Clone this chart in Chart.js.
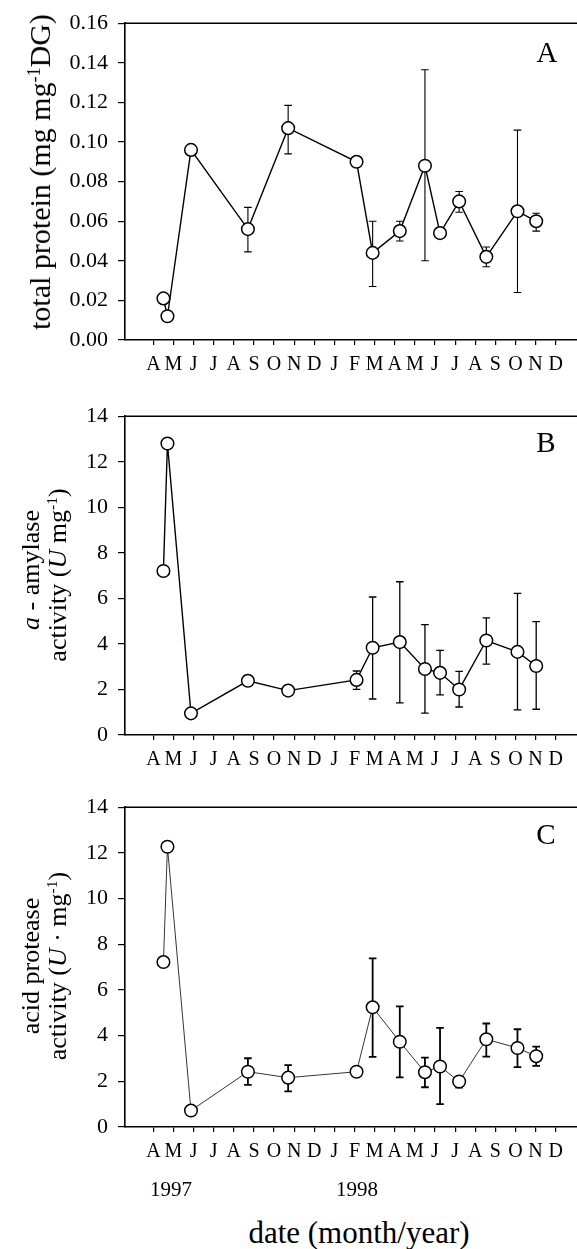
<!DOCTYPE html>
<html>
<head>
<meta charset="utf-8">
<script src="https://cdn.jsdelivr.net/npm/chart.js@4.4.0/dist/chart.umd.min.js"></script>
<style>
  html, body { margin: 0; padding: 0; background: #fff; width: 577px; height: 1249px; overflow: hidden; position: relative; }
  canvas { position: absolute; left: 0; }
  .txt { position: absolute; font-family: 'Liberation Serif', 'Times New Roman', serif; color: #000; white-space: nowrap; line-height: 1; transform: translate(-50%, -50%); }
  .rot { transform: translate(-50%, -50%) rotate(-90deg); }
  sup { font-size: 60%; vertical-align: 0; position: relative; top: -0.55em; }
</style>
</head>
<body>
<canvas id="chartA"></canvas>
<canvas id="chartB"></canvas>
<canvas id="chartC"></canvas>

<div class="txt rot" style="left:40px;top:172px;font-size:30px">total protein (mg mg<sup>-1</sup>DG)</div>
<div class="txt rot" style="left:31px;top:570px;font-size:26px"><i>a</i> - amylase</div>
<div class="txt rot" style="left:58px;top:575px;font-size:26px">activity (<i>U</i> mg<sup>-1</sup>)</div>
<div class="txt rot" style="left:31px;top:966px;font-size:26px">acid protease</div>
<div class="txt rot" style="left:58px;top:966px;font-size:26px">activity (<i>U</i> · mg<sup>-1</sup>)</div>

<div class="txt" style="left:547px;top:52px;font-size:29px">A</div>
<div class="txt" style="left:546px;top:442px;font-size:29px">B</div>
<div class="txt" style="left:546px;top:834px;font-size:29px">C</div>

<div class="txt" style="left:171px;top:1189px;font-size:21px">1997</div>
<div class="txt" style="left:357px;top:1189px;font-size:21px">1998</div>
<div class="txt" style="left:359px;top:1232px;font-size:31px">date (month/year)</div>

<script>
// month ticks, April 1997 .. December 1998
const MONTHS = ['A','M','J','J','A','S','O','N','D','J','F','M','A','M','J','J','A','S','O','N','D'];
// sampling dates in months after April 1997
const SAMPLE_MONTH = [0.5, 0.7, 1.87, 4.7, 6.7, 10.1, 10.9, 12.25, 13.5, 14.25, 15.2, 16.55, 18.1, 19.03];

const PROTEIN      = [0.021, 0.012, 0.096, 0.056, 0.107, 0.090, 0.044, 0.055, 0.088, 0.054, 0.070, 0.042, 0.065, 0.060];
const PROTEIN_LOW  = [null, null, null, 0.0445, 0.094, null, 0.027, 0.050, 0.040, null, 0.0645, 0.037, 0.024, 0.055];
const PROTEIN_HIGH = [null, null, null, 0.067, 0.1185, null, 0.060, 0.060, 0.1365, null, 0.075, 0.047, 0.106, 0.064];

const AMYLASE      = [7.2, 12.8, 0.95, 2.38, 1.95, 2.42, 3.83, 4.08, 2.9, 2.73, 2.0, 4.15, 3.65, 3.03];
const AMYLASE_LOW  = [null, null, null, null, null, 2.0, 1.58, 1.41, 0.96, 1.76, 1.23, 3.11, 1.10, 1.13];
const AMYLASE_HIGH = [null, null, null, null, null, 2.81, 6.06, 6.73, 4.85, 3.72, 2.79, 5.14, 6.22, 4.98];

const PROTEASE      = [7.22, 12.27, 0.72, 2.42, 2.16, 2.42, 5.24, 3.73, 2.4, 2.65, 1.99, 3.84, 3.46, 3.10];
const PROTEASE_LOW  = [null, null, null, 1.84, 1.56, null, 3.07, 2.17, 1.74, 1.0, 1.72, 3.08, 2.62, 2.68];
const PROTEASE_HIGH = [null, null, null, 3.01, 2.71, null, 7.38, 5.28, 3.04, 4.34, 2.12, 4.53, 4.28, 3.52];

Chart.defaults.font.family = "'Liberation Serif', 'Times New Roman', serif";
Chart.defaults.color = '#000';

// error bars under the markers, plus the top frame line
const errorBars = {
  id: 'errorBars',
  beforeDatasetsDraw(chart, args, opts) {
    const { ctx, scales: { x, y } } = chart;
    ctx.save();
    ctx.strokeStyle = '#000';
    ctx.lineWidth = opts.width;
    SAMPLE_MONTH.forEach((m, i) => {
      if (opts.low[i] == null) return;
      const px = x.getPixelForValue(m);
      const y1 = y.getPixelForValue(opts.low[i]);
      const y2 = y.getPixelForValue(opts.high[i]);
      const cap = 3.8;
      ctx.beginPath();
      ctx.moveTo(px, y1); ctx.lineTo(px, y2);
      ctx.moveTo(px - cap, y1); ctx.lineTo(px + cap, y1);
      ctx.moveTo(px - cap, y2); ctx.lineTo(px + cap, y2);
      ctx.stroke();
    });
    ctx.restore();
  },
  afterDraw(chart) {
    const { ctx, chartArea } = chart;
    ctx.save();
    ctx.strokeStyle = '#000';
    ctx.lineWidth = 1.5;
    ctx.beginPath();
    ctx.moveTo(chartArea.left, chartArea.top);
    ctx.lineTo(chartArea.right, chartArea.top);
    ctx.stroke();
    ctx.restore();
  }
};

function makePanel(id, top, bottom, values, low, high, yMax, yStep, decimals, lineW, barW) {
  const canvas = document.getElementById(id);
  const H = bottom - top + 80;
  canvas.width = 640;
  canvas.height = H;
  canvas.style.top = (top - 20) + 'px';
  canvas.style.width = '640px';
  canvas.style.height = H + 'px';

  return new Chart(canvas, {
    type: 'scatter',
    data: {
      datasets: [{
        data: SAMPLE_MONTH.map((m, i) => ({ x: m, y: values[i] })),
        showLine: true,
        borderColor: '#000',
        borderWidth: lineW,
        tension: 0,
        pointRadius: 6.3,
        pointBackgroundColor: '#fff',
        pointBorderColor: '#000',
        pointBorderWidth: 1.5
      }]
    },
    options: {
      responsive: false,
      animation: false,
      layout: { padding: { top: 20, left: 0, right: 34, bottom: 0 } },
      plugins: {
        legend: { display: false },
        tooltip: { enabled: false },
        errorBars: { low, high, width: barW }
      },
      scales: {
        x: {
          type: 'linear',
          min: -1.41,
          max: 22.5,
          afterBuildTicks: s => { s.ticks = MONTHS.map((_, i) => ({ value: i })); },
          afterFit: s => { s.height = 60; },
          ticks: {
            autoSkip: false, maxRotation: 0, padding: 8,
            font: { size: 20 },
            callback: v => MONTHS[v]
          },
          grid: { drawOnChartArea: false, drawTicks: true, tickLength: 5, color: '#000', lineWidth: 1.2 },
          border: { display: true, color: '#000', width: 1.6 }
        },
        y: {
          min: 0,
          max: yMax,
          afterFit: s => { s.width = 125; },
          ticks: {
            stepSize: yStep, padding: 10,
            font: { size: 22 },
            callback: v => v.toFixed(decimals)
          },
          grid: { drawOnChartArea: false, drawTicks: true, tickLength: 7, color: '#000', lineWidth: 1.2 },
          border: { display: true, color: '#000', width: 1.6 }
        }
      }
    },
    plugins: [errorBars]
  });
}

makePanel('chartA', 20, 340, PROTEIN, PROTEIN_LOW, PROTEIN_HIGH, 0.16, 0.02, 2, 1.4, 1.1);
makePanel('chartB', 413, 735, AMYLASE, AMYLASE_LOW, AMYLASE_HIGH, 14, 2, 0, 1.4, 1.3);
makePanel('chartC', 804, 1127, PROTEASE, PROTEASE_LOW, PROTEASE_HIGH, 14, 2, 0, 0.8, 1.8);
</script>
</body>
</html>
